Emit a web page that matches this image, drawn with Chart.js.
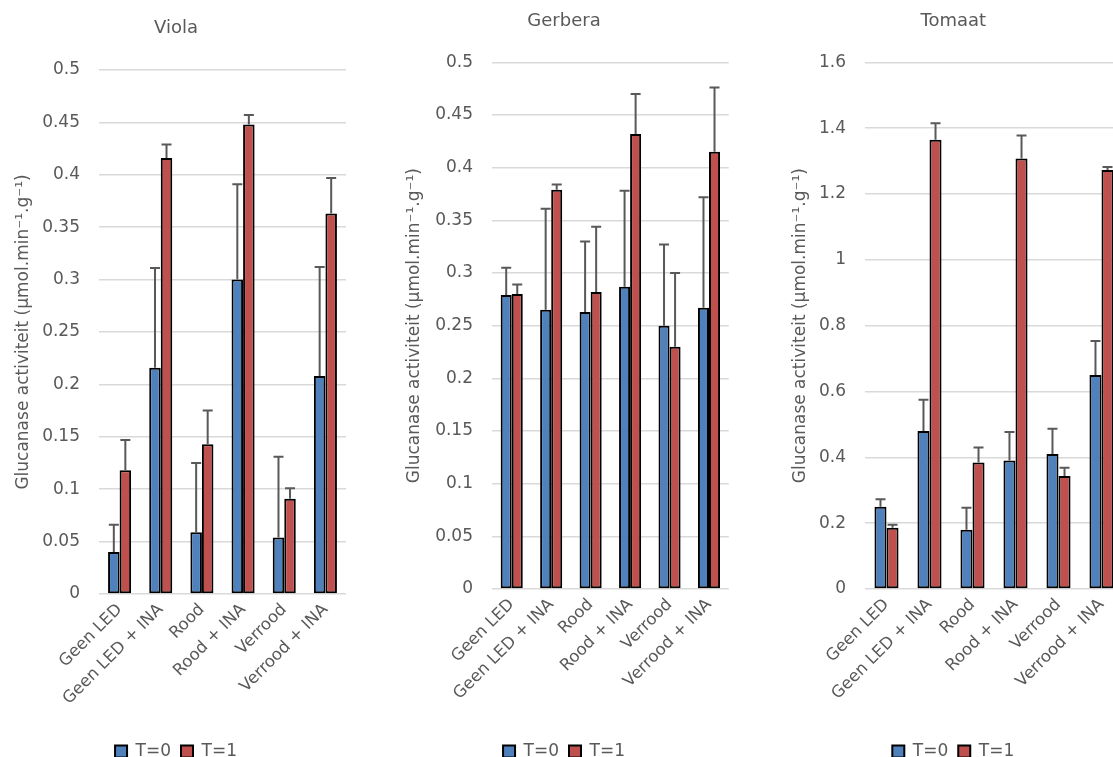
<!DOCTYPE html>
<html>
<head>
<meta charset="utf-8">
<script src="https://cdn.jsdelivr.net/npm/chart.js@4"></script>
<style>
  html, body { margin: 0; padding: 0; background: #fff; overflow: hidden; }
  #wrap { position: relative; width: 1113px; height: 757px; overflow: hidden; }
  canvas { position: absolute; top: 0; }
</style>
</head>
<body>
<div id="wrap">
  <canvas id="viola" width="346" height="757" style="left:0px"></canvas>
  <canvas id="gerbera" width="349" height="757" style="left:380px"></canvas>
  <canvas id="tomaat" width="353" height="757" style="left:770px"></canvas>
</div>
<script>
// Glucanase activity per treatment, T=0 vs T=1 (three crops)

const categories = ['Geen LED', 'Geen LED + INA', 'Rood', 'Rood + INA', 'Verrood', 'Verrood + INA'];
const seriesNames = ['T=0', 'T=1'];

const violaT0 = [0.040, 0.216, 0.059, 0.300, 0.054, 0.208];
const violaT1 = [0.118, 0.416, 0.143, 0.448, 0.091, 0.363];
const violaErrT0 = [0.026, 0.095, 0.066, 0.091, 0.077, 0.104];
const violaErrT1 = [0.029, 0.013, 0.032, 0.009, 0.010, 0.034];

const gerberaT0 = [0.279, 0.265, 0.263, 0.287, 0.250, 0.267];
const gerberaT1 = [0.280, 0.379, 0.282, 0.432, 0.230, 0.415];
const gerberaErrT0 = [0.026, 0.096, 0.067, 0.091, 0.077, 0.105];
const gerberaErrT1 = [0.009, 0.005, 0.062, 0.038, 0.070, 0.061];

const tomaatT0 = [0.250, 0.480, 0.180, 0.390, 0.410, 0.650];
const tomaatT1 = [0.186, 1.365, 0.384, 1.308, 0.343, 1.273];
const tomaatErrT0 = [0.023, 0.095, 0.067, 0.087, 0.077, 0.103];
const tomaatErrT1 = [0.009, 0.050, 0.046, 0.070, 0.025, 0.009];

const yTitle = 'Glucanase activiteit (µmol.min⁻¹.g⁻¹)';
const FONT = "'DejaVu Sans', sans-serif";
const GREY = '#595959';

// upper error bars, drawn through the y scale
const errorBarPlugin = {
    id: 'errorBars',
    afterDatasetsDraw(chart) {
        const ctx = chart.ctx;
        const yScale = chart.scales.y;
        chart.data.datasets.forEach((ds, i) => {
            const meta = chart.getDatasetMeta(i);
            meta.data.forEach((bar, j) => {
                const top = yScale.getPixelForValue(ds.data[j] + ds.errors[j]);
                ctx.save();
                ctx.strokeStyle = GREY;
                ctx.lineWidth = 2;
                ctx.beginPath();
                ctx.moveTo(bar.x, bar.y);
                ctx.lineTo(bar.x, top);
                ctx.moveTo(bar.x - 5, top);
                ctx.lineTo(bar.x + 5, top);
                ctx.stroke();
                ctx.restore();
            });
        });
    }
};

function makeChart(id, o) {
    const canvas = document.getElementById(id);
    return new Chart(canvas, {
        type: 'bar',
        data: {
            labels: categories,
            datasets: [
                {
                    label: seriesNames[0],
                    data: o.t0,
                    errors: o.e0,
                    backgroundColor: '#4F81BD',
                    borderColor: '#000',
                    borderWidth: 2,
                    borderSkipped: false
                },
                {
                    label: seriesNames[1],
                    data: o.t1,
                    errors: o.e1,
                    backgroundColor: '#C0504D',
                    borderColor: '#000',
                    borderWidth: 2,
                    borderSkipped: false
                }
            ]
        },
        plugins: [errorBarPlugin],
        options: {
            responsive: false,
            animation: false,
            devicePixelRatio: 1,
            categoryPercentage: 0.56,
            barPercentage: 1,
            layout: { padding: { left: o.padLeft, right: 0, top: 0, bottom: -13 } },
            plugins: {
                title: {
                    display: true,
                    text: o.title,
                    color: GREY,
                    font: { family: FONT, size: 18, weight: 'normal' },
                    padding: { top: o.titleTop, bottom: o.plotTop - o.titleTop - 21.6 }
                },
                legend: {
                    position: 'bottom',
                    labels: {
                        color: GREY,
                        boxWidth: 12,
                        boxHeight: 12,
                        padding: 10,
                        font: { family: FONT, size: 17 }
                    }
                },
                tooltip: { enabled: false }
            },
            scales: {
                x: {
                    grid: { display: false, drawTicks: false },
                    border: { display: false },
                    ticks: {
                        color: GREY,
                        font: { family: FONT, size: 16.5 },
                        minRotation: 45,
                        maxRotation: 45,
                        padding: 6,
                        autoSkip: false
                    },
                    afterFit: s => { s.height = 733 - o.plotBottom; }
                },
                y: {
                    min: 0,
                    max: o.max,
                    grid: { color: '#d9d9d9', lineWidth: 1.5, drawTicks: false },
                    border: { display: false },
                    ticks: {
                        stepSize: o.step,
                        color: GREY,
                        padding: 19,
                        font: { family: FONT, size: 17 },
                        callback: v => String(+v.toFixed(2))
                    },
                    title: {
                        display: true,
                        text: yTitle,
                        color: GREY,
                        font: { family: FONT, size: 17 },
                        padding: { top: o.yTitlePad, bottom: 0 }
                    },
                    afterFit: s => { s.width = o.yWidth; }
                }
            }
        }
    });
}

makeChart('viola', {
    title: 'Viola', t0: violaT0, t1: violaT1, e0: violaErrT0, e1: violaErrT1,
    max: 0.5, step: 0.05, padLeft: 6, yWidth: 93, yTitlePad: 7.8,
    titleTop: 18, plotTop: 70, plotBottom: 594
});

makeChart('gerbera', {
    title: 'Gerbera', t0: gerberaT0, t1: gerberaT1, e0: gerberaErrT0, e1: gerberaErrT1,
    max: 0.5, step: 0.05, padLeft: 19, yWidth: 93, yTitlePad: 5.8,
    titleTop: 10.2, plotTop: 62.3, plotBottom: 589
});

makeChart('tomaat', {
    title: 'Tomaat', t0: tomaatT0, t1: tomaatT1, e0: tomaatErrT0, e1: tomaatErrT1,
    max: 1.6, step: 0.2, padLeft: 13.5, yWidth: 81.5, yTitlePad: 7.3,
    titleTop: 10.2, plotTop: 62.3, plotBottom: 589
});
</script>
</body>
</html>
